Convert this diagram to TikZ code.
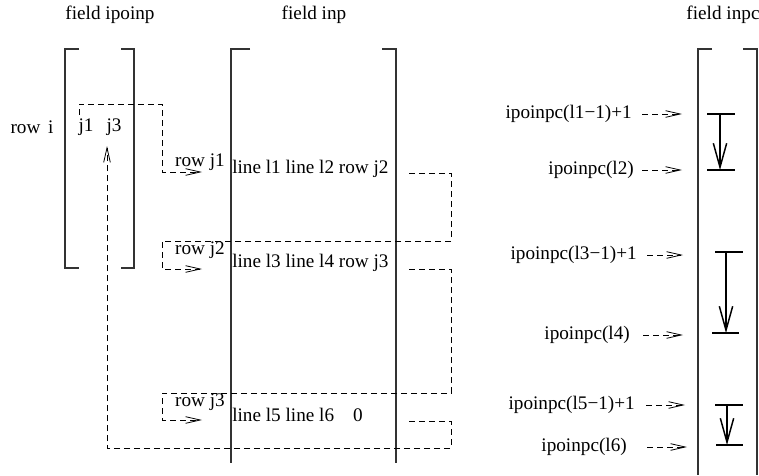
\documentclass[tikz,border=0pt]{standalone}
\usepackage{fontspec}
\setmainfont{Liberation Serif}
\usetikzlibrary{arrows.meta}
\tikzset{
  lbl/.style={inner sep=0pt, font=\fontsize{14.4}{17}\selectfont},
  frame/.style={line width=0.8pt, black!80},
  link/.style={dash pattern=on 4.5pt off 3pt, line width=0.6pt},
  ptr/.style={link, -{Straight Barb[length=11pt,width=5pt,line width=0.6pt]}},
  bar/.style={line width=1.1pt},
  span/.style={bar, -{Straight Barb[length=18pt,width=10pt,line width=1.1pt]}},
}
\begin{document}
\begin{tikzpicture}[x=0.75pt, y=-0.75pt]
    \useasboundingbox (0,0) rectangle (759,475);

    % Field titles
    \node[lbl] (tipoinp) at (110,15) {field ipoinp};
    \node[lbl] (tinp) at (314,15) {field inp};
    \node[lbl] (tinpc) at (723,15) {field inpc};

    % Brackets of the three fields
    \draw[frame] (79,49) -- (65,49) -- (65,268) -- (79,268);
    \draw[frame] (121,49) -- (134,49) -- (134,268) -- (121,268);
    \draw[frame] (250,49) -- (231,49) -- (231,463);
    \draw[frame] (382,49) -- (396,49) -- (396,463);
    \draw[frame] (712,49) -- (698,49) -- (698,475);
    \draw[frame] (743,49) -- (757,49) -- (757,475);

    % field ipoinp
    \node[lbl] (rowi) at (32,127) {row\hspace{0.4em}i};
    \node[lbl] (j1) at (86,127) {j1};
    \node[lbl] (j3) at (114,127) {j3};

    % field inp
    \node[lbl] (rj1) at (200,162) {row j1};
    \node[lbl] (rj2) at (200,250) {row j2};
    \node[lbl] (rj3) at (200,402) {row j3};
    \node[lbl, anchor=west] (inp1) at (232,169) {line l1 line l2 row j2};
    \node[lbl, anchor=west] (inp2) at (232,263) {line l3 line l4 row j3};
    \node[lbl, anchor=west] (inp3) at (232,415) {line l5 line l6};
    \node[lbl] (zero) at (358,415) {0};

    % Targets of the row pointers
    \coordinate (e1) at (202,172);
    \coordinate (e2) at (202,269);
    \coordinate (e3) at (202,420);
    \coordinate (e4) at (107,146);

    % Dashed chains
    \draw[ptr] (79,115) -- (79,104) -- (162,104) -- (162,172) -- (e1);
    \draw[ptr] (409,173) -- (451,173) -- (451,241) -- (162,241) -- (162,269) -- (e2);
    \draw[ptr] (409,269) -- (451,269) -- (451,393) -- (162,393) -- (162,420) -- (e3);
    \draw[ptr] (409,421) -- (451,421) -- (451,448) -- (107,448) -- (e4);

    % field inpc: pointer labels
    \node[lbl, anchor=east] (p1) at (632,114) {ipoinpc(l1\textminus1)+1};
    \node[lbl, anchor=east] (p2) at (634,170) {ipoinpc(l2)};
    \node[lbl, anchor=east] (p3) at (637,255) {ipoinpc(l3\textminus1)+1};
    \node[lbl, anchor=east] (p4) at (630,335) {ipoinpc(l4)};
    \node[lbl, anchor=east] (p5) at (635,405) {ipoinpc(l5\textminus1)+1};
    \node[lbl, anchor=east] (p6) at (627,447) {ipoinpc(l6)};

    \coordinate (q1) at (682,114);
    \coordinate (q2) at (682,170);
    \coordinate (q3) at (683,255);
    \coordinate (q4) at (683,335);
    \coordinate (q5) at (685,405);
    \coordinate (q6) at (687,447);

    \draw[ptr] ([xshift=7.5pt]p1.east) -- (q1);
    \draw[ptr] ([xshift=6pt]p2.east) -- (q2);
    \draw[ptr] ([xshift=7.5pt]p3.east) -- (q3);
    \draw[ptr] ([xshift=9.75pt]p4.east) -- (q4);
    \draw[ptr] ([xshift=8.25pt]p5.east) -- (q5);
    \draw[ptr] ([xshift=15pt]p6.east) -- (q6);

    % field inpc: ranges
    \draw[bar] (707,114) -- (735,114);
    \draw[bar] (707,170) -- (735,170);
    \draw[span] (720,114) -- (720,170);

    \draw[bar] (715,252) -- (743,252);
    \draw[bar] (712,333) -- (739,333);
    \draw[span] (726,252) -- (726,333);

    \draw[bar] (715,405) -- (743,405);
    \draw[bar] (716,445) -- (743,445);
    \draw[span] (727,405) -- (727,445);

\end{tikzpicture}
\end{document}
